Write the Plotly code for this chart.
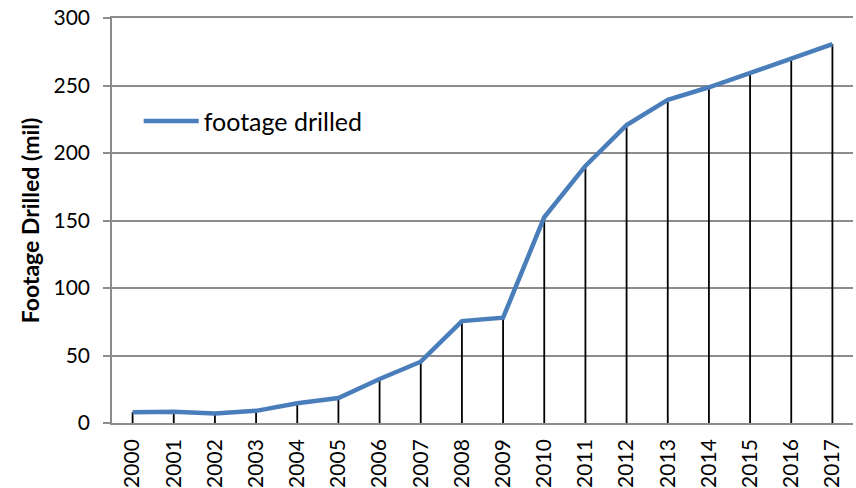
import plotly.graph_objects as go

years = [str(y) for y in range(2000, 2018)]
footage = [8, 8.3, 7, 9, 14.6, 18.5, 32.6, 45.4, 75.5, 78, 152.4, 190.4, 220.7, 239.3, 248.7, 259, 269.9, 280.7]

drop_x, drop_y = [], []
for yr, v in zip(years, footage):
    drop_x += [yr, yr, None]
    drop_y += [0, v, None]

fig = go.Figure()
fig.add_trace(go.Scatter(x=drop_x, y=drop_y, mode="lines",
                         line=dict(color="black", width=1.8),
                         showlegend=False, hoverinfo="skip"))
fig.add_trace(go.Scatter(x=years, y=footage, mode="lines", name="footage drilled",
                         line=dict(color="#4a7ebb", width=4.5)))

fig.update_layout(
    width=856, height=488,
    margin=dict(l=112, r=3, t=18, b=65),
    plot_bgcolor="white", paper_bgcolor="white",
    font=dict(family="Lato, Noto Sans, sans-serif", size=21, color="black"),
    legend=dict(x=0.036, y=0.745, xanchor="left", yanchor="middle",
                font=dict(size=25), bgcolor="rgba(0,0,0,0)", itemwidth=55),
    xaxis=dict(type="category", tickangle=-90, showgrid=False,
               range=[-0.5, len(years) - 0.5], automargin=False,
               showline=True, mirror=True, linecolor="#8c8c8c", linewidth=1.5,
               ticks="", tickfont=dict(size=21), ticklabelstandoff=6),
    yaxis=dict(range=[0, 300], dtick=50, showgrid=True, gridcolor="#8c8c8c",
               gridwidth=1.5, showline=True, linecolor="#8c8c8c", linewidth=1.5,
               ticks="outside", ticklen=7, tickcolor="#8c8c8c", tickwidth=1.5,
               zeroline=False, tickfont=dict(size=21), automargin=False,
               ticklabelstandoff=9,
               title=dict(text="<b>Footage Drilled (mil)</b>", font=dict(size=23), standoff=7)),
)

fig.write_html("out.html", config={"displayModeBar": False},
               post_script="document.body.style.margin='0';")
